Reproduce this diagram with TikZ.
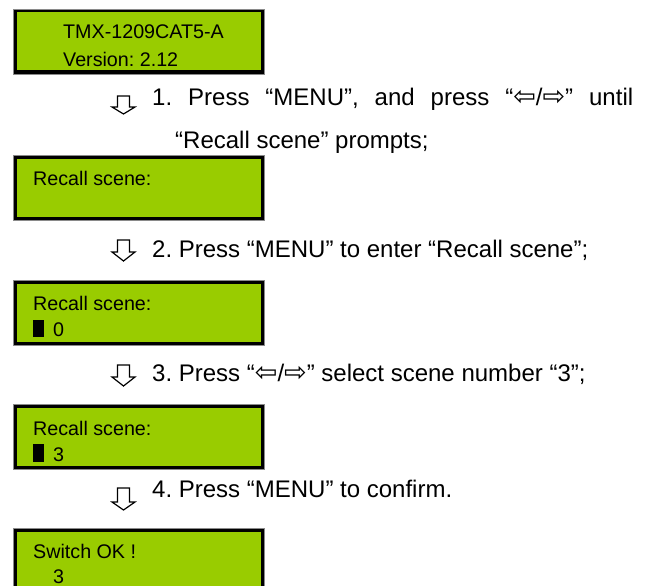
\documentclass[tikz,border=0pt]{standalone}
\usepackage{fontspec}
\setmainfont{Liberation Sans}
\newfontfamily\arrowglyphs{DejaVu Sans}
\definecolor{lcdgreen}{HTML}{99CC00}
\definecolor{rimgray}{HTML}{8A8A8A}
\frenchspacing

% outlined down arrow: centre x, top, shoulder, tip
\newcommand\hollowarrow[4]{%
  \draw[arrowline] (#1-6,#2) -- (#1+6,#2) -- (#1+6,#3) -- (#1+11.5,#3)
    -- (#1,#4) -- (#1-11.5,#3) -- (#1-6,#3) -- cycle;}
\newcommand\lr{{\arrowglyphs\fontsize{27}{28}\selectfont ⇦}/{\arrowglyphs\fontsize{27}{28}\selectfont ⇨}}

\begin{document}
\begin{tikzpicture}[x=1pt,y=-1pt,
  lcd/.style={draw=black, line width=3.5pt, fill=lcdgreen, rectangle,
    minimum width=247.5pt, minimum height=61.5pt, anchor=north west,
    inner sep=0pt, outer sep=0pt},
  rim/.style={draw=rimgray, line width=0.7pt},
  lcdtext/.style={anchor=base west, inner sep=0pt, font=\fontsize{19.7}{22}\selectfont},
  steptext/.style={anchor=base west, inner sep=0pt, font=\fontsize{24}{28}\selectfont},
  cursor/.style={fill=black},
  arrowline/.style={draw=black, line width=1.2pt, line join=miter}]

\useasboundingbox (0,0) rectangle (651,586);

% LCD screens
\foreach \t/\n in {9/b1,155/b2,280/b3,404.5/b4,528/b5}{
  \node[lcd] (\n) at (14.75,\t+1.75) {};
  \draw[rim] (12.9,\t-0.1) rectangle (264.1,\t+65.1);
}

% screen 1
\node[lcdtext] (t1a) at (63,38.5) {TMX-1209CAT5-A};
\node[lcdtext] (t1b) at (63,66.5) {Version: 2.12};

% screen 2
\node[lcdtext] (t2a) at (33,185.5) {Recall scene:};

% screen 3
\node[lcdtext] (t3a) at (33,310.5) {Recall scene:};
\fill[cursor] (33,319.5) rectangle (44,337);
\node[lcdtext] (t3b) at (53,336.5) {0};

% screen 4
\node[lcdtext] (t4a) at (33,435) {Recall scene:};
\fill[cursor] (33,444) rectangle (44,461.5);
\node[lcdtext] (t4b) at (53,461) {3};

% screen 5
\node[lcdtext] (t5a) at (33,558) {Switch OK !};
\node[lcdtext] (t5b) at (53,583) {3};

% step 1
\hollowarrow{123.5}{96}{107}{114}
\node[steptext] (s1n) at (152,106) {1.};
\node[steptext] (s1a) at (188,106)
  {\makebox[445pt][s]{Press “MENU”, and press “\lr” until}};
\node[steptext] (s1b) at (175,148) {“Recall scene” prompts;};

% step 2
\hollowarrow{123.5}{240}{252}{261}
\node[steptext] (s2) at (152,257) {2. Press “MENU” to enter “Recall scene”;};

% step 3
\hollowarrow{123.5}{365}{377}{386}
\node[steptext] (s3) at (152,381) {3. Press “\lr” select scene number “3”;};

% step 4
\hollowarrow{123.5}{488}{502}{510}
\node[steptext] (s4) at (152,497) {4. Press “MENU” to confirm.};

\end{tikzpicture}
\end{document}
